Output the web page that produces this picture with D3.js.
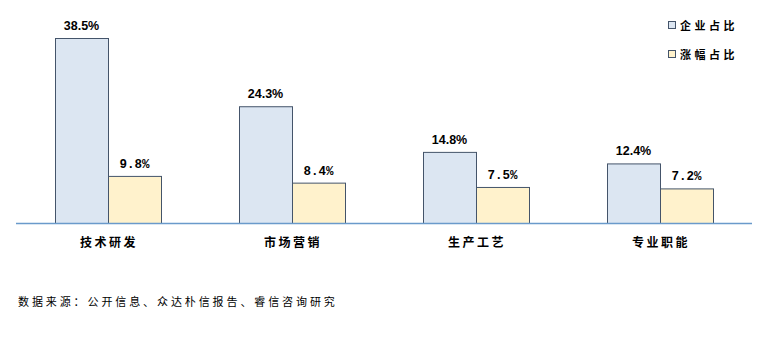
<!DOCTYPE html>
<html><head><meta charset="utf-8">
<script src="https://cdn.jsdelivr.net/npm/d3@7/dist/d3.min.js"></script>
<style>body{margin:0;background:#fff}</style>
</head><body>
<script>
const categories = ["技术研发","市场营销","生产工艺","专业职能"];
const seriesNames = ["企业占比","涨幅占比"];
const enterpriseShare = [38.5,24.3,14.8,12.4];
const increaseShare = [9.8,8.4,7.5,7.2];
const sourceText = "数据来源：公开信息、众达朴信报告、睿信咨询研究";

const W=775,H=339;
const svg=d3.select("body").append("svg").attr("width",W).attr("height",H);
const x0=d3.scaleBand().domain(categories).range([16,752]);
const x1=d3.scaleBand().domain(seriesNames).range([0,106]);
const y=d3.scaleLinear().domain([0,38.5]).range([223,38]);
const fills=["#dce6f2","#fff2cc"];
const cjk="'Noto Sans CJK SC',sans-serif";

const data=categories.map((c,i)=>({c,vals:[enterpriseShare[i],increaseShare[i]]}));
const g=svg.selectAll("g.grp").data(data).join("g")
  .attr("transform",d=>`translate(${x0(d.c)+x0.bandwidth()/2-53},0)`);
g.selectAll("rect").data(d=>d.vals.map((v,j)=>({v,j}))).join("rect")
  .attr("x",d=>x1(seriesNames[d.j])+0.5).attr("width",x1.bandwidth())
  .attr("y",d=>y(d.v)+0.5).attr("height",d=>y(0)-y(d.v))
  .attr("fill",d=>fills[d.j]).attr("stroke","#44546a").attr("stroke-width",1);
g.selectAll("text.val").data(d=>d.vals.map((v,j)=>({v,j}))).join("text")
  .attr("class","val")
  .attr("x",d=>x1(seriesNames[d.j])+x1.bandwidth()/2)
  .attr("y",d=>y(d.v)-8)
  .attr("text-anchor","middle")
  .attr("font-family",d=>d.j===0?"'Liberation Sans',Arial,sans-serif":"'Liberation Mono','DejaVu Sans Mono',monospace")
  .attr("font-size",12.5)
  .attr("font-weight","bold").attr("fill","#000")
  .text(d=>d.v.toFixed(1)+"%");

svg.append("line").attr("x1",16).attr("x2",752).attr("y1",223.5).attr("y2",223.5)
  .attr("stroke","#6a9acb").attr("stroke-width",1.3);

svg.selectAll("text.cat").data(categories).join("text").attr("class","cat")
  .attr("x",d=>x0(d)+x0.bandwidth()/2+1).attr("y",247)
  .attr("text-anchor","middle").attr("font-family",cjk).attr("font-size",12)
  .attr("font-weight","bold").attr("letter-spacing",2.5).text(d=>d);

const lg=svg.selectAll("g.lg").data(seriesNames).join("g")
  .attr("transform",(d,i)=>`translate(668,${21+i*29})`);
lg.append("rect").attr("x",0.5).attr("y",0.5).attr("width",7).attr("height",7)
  .attr("fill",(d,i)=>fills[i]).attr("stroke","#44546a").attr("stroke-width",1);
lg.append("text").attr("x",12).attr("y",8.5).attr("font-family",cjk).attr("font-size",11)
  .attr("font-weight","bold").attr("letter-spacing",3.5).text(d=>d);

svg.append("text").attr("x",18).attr("y",306).attr("font-family",cjk).attr("font-size",11)
  .attr("letter-spacing",2.9).attr("fill","#000").text(sourceText);
</script>
</body></html>
